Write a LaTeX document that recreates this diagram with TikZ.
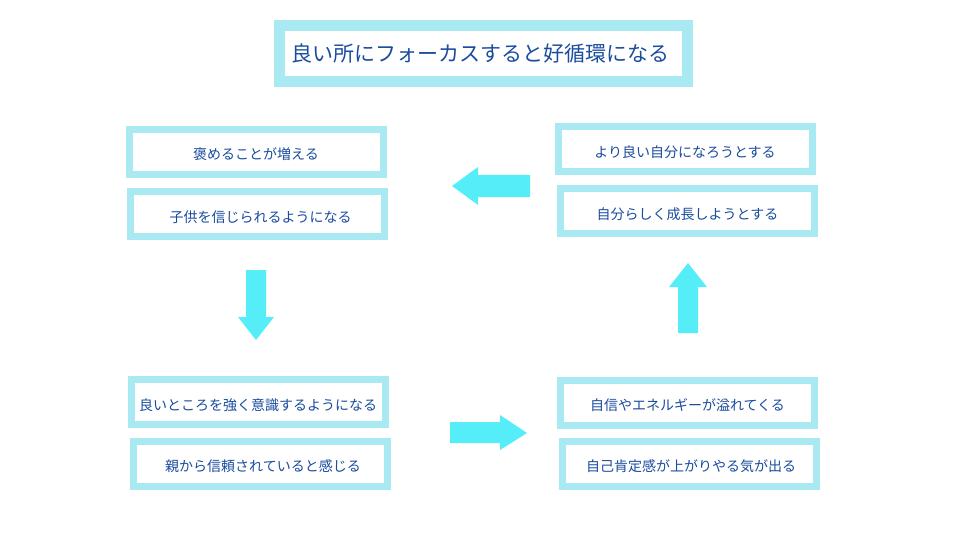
\documentclass[tikz,border=0pt]{standalone}
\usepackage{fontspec}
\setmainfont{Noto Sans CJK JP}
\definecolor{frame}{HTML}{A9E9F1}
\definecolor{arrowc}{HTML}{55EEF8}
\definecolor{txt}{HTML}{1A4C9E}
\begin{document}
\begin{tikzpicture}[x=1pt,y=-1pt,
  box/.style={draw=frame,line width=7pt,fill=white,minimum width=254pt,minimum height=45pt,inner sep=0pt,text=txt,font=\fontsize{14}{16}\selectfont,
    text height=16pt, text depth=0pt},
  titlebox/.style={draw=frame,line width=11pt,fill=white,minimum width=408pt,minimum height=56pt,inner sep=0pt,text=txt,font=\fontsize{21}{24}\selectfont},
  blockarrow/.style={fill=arrowc,draw=none}]
\useasboundingbox (0,0) rectangle (960,540);
\node[titlebox] (title) at (483.5,53.5) {\hspace*{-6pt}良い所にフォーカスすると好循環になる};
\node[box] (tl1) at (256,152) {褒めることが増える};
\node[box] (tl2) at (257.5,214) {\hspace*{6pt}子供を信じられるようになる};
\node[box] (tr1) at (685,149.5) {より良い自分になろうとする};
\node[box] (tr2) at (687.5,211) {自分らしく成長しようとする};
\node[box] (bl1) at (258,402) {良いところを強く意識するようになる};
\node[box] (bl2) at (260,463.5) {\hspace*{6pt}親から信頼されていると感じる};
\node[box] (br1) at (687.5,402.5) {自信やエネルギーが溢れてくる};
\node[box] (br2) at (689,463.5) {\hspace*{4pt}自己肯定感が上がりやる気が出る};
% left arrow
\fill[blockarrow] (530,175) -- (478,175) -- (478,167) -- (452,186) -- (478,205) -- (478,197) -- (530,197) -- cycle;
% down arrow
\fill[blockarrow] (246,270) -- (266,270) -- (266,317) -- (274,317) -- (256,340) -- (238,317) -- (246,317) -- cycle;
% right arrow
\fill[blockarrow] (450,422) -- (500,422) -- (500,415) -- (527,433) -- (500,450) -- (500,443) -- (450,443) -- cycle;
% up arrow
\fill[blockarrow] (678,333) -- (678,287) -- (669,287) -- (688,263) -- (707,287) -- (698,287) -- (698,333) -- cycle;
\end{tikzpicture}
\end{document}
